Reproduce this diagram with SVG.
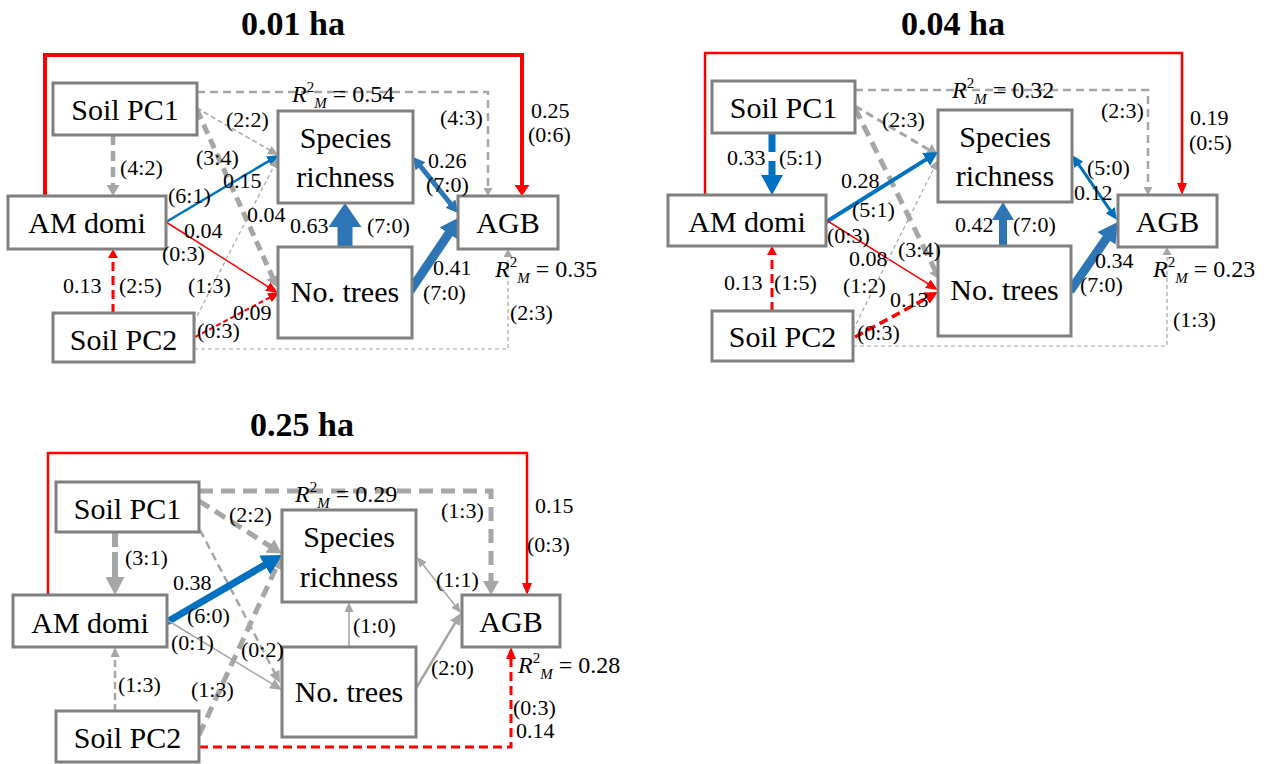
<svg xmlns="http://www.w3.org/2000/svg" width="1269" height="764" viewBox="0 0 1269 764">
<style>
.box{fill:#fff;stroke:#808080;stroke-width:3}
.nt{font-family:'Liberation Serif','Times New Roman',serif;font-size:30px;fill:#000;text-anchor:middle}
.el{font-family:'Liberation Serif','Times New Roman',serif;font-size:22px;fill:#000}
.r2{font-family:'Liberation Serif','Times New Roman',serif;font-size:24px;fill:#000}
.ttl{font-family:'Liberation Serif','Times New Roman',serif;font-size:34px;font-weight:bold;fill:#000;text-anchor:middle}
.c{fill:none}
</style>
<defs>
<marker id="mR1" markerUnits="userSpaceOnUse" viewBox="0 0 12 10" markerWidth="12" markerHeight="10" refX="2" refY="5" orient="auto-start-reverse"><path d="M0,0L12,5L0,10z" fill="#ff0000"/></marker>
<marker id="mR2" markerUnits="userSpaceOnUse" viewBox="0 0 11 15" markerWidth="11" markerHeight="15" refX="2" refY="7.5" orient="auto-start-reverse"><path d="M0,0L11,7.5L0,15z" fill="#ff0000"/></marker>
<marker id="mR3" markerUnits="userSpaceOnUse" viewBox="0 0 9 10" markerWidth="9" markerHeight="10" refX="2" refY="5" orient="auto-start-reverse"><path d="M0,0L9,5L0,10z" fill="#ff0000"/></marker>
<marker id="mR4" markerUnits="userSpaceOnUse" viewBox="0 0 13 13" markerWidth="13" markerHeight="13" refX="2" refY="6.5" orient="auto-start-reverse"><path d="M0,0L13,6.5L0,13z" fill="#ff0000"/></marker>
<marker id="mB1" markerUnits="userSpaceOnUse" viewBox="0 0 12 11" markerWidth="12" markerHeight="11" refX="2" refY="5.5" orient="auto-start-reverse"><path d="M0,0L12,5.5L0,11z" fill="#0070c0"/></marker>
<marker id="mB2" markerUnits="userSpaceOnUse" viewBox="0 0 14 15" markerWidth="14" markerHeight="15" refX="2" refY="7.5" orient="auto-start-reverse"><path d="M0,0L14,7.5L0,15z" fill="#0070c0"/></marker>
<marker id="mB3" markerUnits="userSpaceOnUse" viewBox="0 0 20 22" markerWidth="20" markerHeight="22" refX="2" refY="11" orient="auto-start-reverse"><path d="M0,0L20,11L0,22z" fill="#0070c0"/></marker>
<marker id="mB4" markerUnits="userSpaceOnUse" viewBox="0 0 20 22" markerWidth="20" markerHeight="22" refX="2" refY="11" orient="auto-start-reverse"><path d="M0,0L20,11L0,22z" fill="#2e75b6"/></marker>
<marker id="mB5" markerUnits="userSpaceOnUse" viewBox="0 0 24 33" markerWidth="24" markerHeight="33" refX="2" refY="16.5" orient="auto-start-reverse"><path d="M0,0L24,16.5L0,33z" fill="#2e75b6"/></marker>
<marker id="mB6" markerUnits="userSpaceOnUse" viewBox="0 0 18 22" markerWidth="18" markerHeight="22" refX="2" refY="11" orient="auto-start-reverse"><path d="M0,0L18,11L0,22z" fill="#2e75b6"/></marker>
<marker id="mB7" markerUnits="userSpaceOnUse" viewBox="0 0 12 13" markerWidth="12" markerHeight="13" refX="2" refY="6.5" orient="auto-start-reverse"><path d="M0,0L12,6.5L0,13z" fill="#2e75b6"/></marker>
<marker id="mG1" markerUnits="userSpaceOnUse" viewBox="0 0 8 9" markerWidth="8" markerHeight="9" refX="2" refY="4.5" orient="auto-start-reverse"><path d="M0,0L8,4.5L0,9z" fill="#a6a6a6"/></marker>
<marker id="mG2" markerUnits="userSpaceOnUse" viewBox="0 0 10 9" markerWidth="10" markerHeight="9" refX="2" refY="4.5" orient="auto-start-reverse"><path d="M0,0L10,4.5L0,9z" fill="#a6a6a6"/></marker>
<marker id="mG3" markerUnits="userSpaceOnUse" viewBox="0 0 11 13" markerWidth="11" markerHeight="13" refX="2" refY="6.5" orient="auto-start-reverse"><path d="M0,0L11,6.5L0,13z" fill="#a6a6a6"/></marker>
<marker id="mG4" markerUnits="userSpaceOnUse" viewBox="0 0 14 16" markerWidth="14" markerHeight="16" refX="2" refY="8" orient="auto-start-reverse"><path d="M0,0L14,8L0,16z" fill="#a6a6a6"/></marker>
<marker id="mG5" markerUnits="userSpaceOnUse" viewBox="0 0 18 19" markerWidth="18" markerHeight="19" refX="2" refY="9.5" orient="auto-start-reverse"><path d="M0,0L18,9.5L0,19z" fill="#a6a6a6"/></marker>
<marker id="mG6" markerUnits="userSpaceOnUse" viewBox="0 0 12 11" markerWidth="12" markerHeight="11" refX="2" refY="5.5" orient="auto-start-reverse"><path d="M0,0L12,5.5L0,11z" fill="#a6a6a6"/></marker>
</defs>
<rect width="1269" height="764" fill="#fff"/>

<g id="connectors" fill="none">
<path class="c" stroke="#ff0000" stroke-width="4" d="M45,196V55H522V187" marker-end="url(#mR2)"/>
<path class="c" stroke="#a6a6a6" stroke-width="2.5" stroke-dasharray="8 5" d="M197,92H488V190" marker-end="url(#mG1)"/>
<path class="c" stroke="#a6a6a6" stroke-width="4.5" stroke-dasharray="10 6" d="M113,135V187" marker-end="url(#mG3)"/>
<path class="c" stroke="#a6a6a6" stroke-width="1.5" stroke-dasharray="5 3" d="M197,108L271.1,151" marker-end="url(#mG2)"/>
<path class="c" stroke="#a6a6a6" stroke-width="5" stroke-dasharray="10 6" d="M197,110L273.3,278.8" marker-end="url(#mG3)"/>
<path class="c" stroke="#0070c0" stroke-width="2.5" d="M166,222L270.4,160.1" marker-end="url(#mB1)"/>
<path class="c" stroke="#ff0000" stroke-width="1.5" d="M166,222L269.5,287.6" marker-end="url(#mR1)"/>
<path class="c" stroke="#a6a6a6" stroke-width="1.2" stroke-dasharray="4 3" d="M194,322L274.4,165.1" marker-end="url(#mG2)"/>
<path class="c" stroke="#ff0000" stroke-width="2" stroke-dasharray="5 3" d="M195,337L271.2,296.7" marker-end="url(#mR1)"/>
<path class="c" stroke="#a6a6a6" stroke-width="1.2" stroke-dasharray="4 3" d="M194,349H508V255" marker-end="url(#mG1)"/>
<path class="c" stroke="#ff0000" stroke-width="3" stroke-dasharray="9 5" d="M113,313V256" marker-end="url(#mR3)"/>
<path class="c" stroke="#2e75b6" stroke-width="15" d="M345,247V225" marker-end="url(#mB5)"/>
<path class="c" stroke="#2e75b6" stroke-width="9" d="M410,291L449.8,231.9" marker-end="url(#mB4)"/>
<path class="c" stroke="#2e75b6" stroke-width="5" d="M419.3,164.8L451.7,205.2" marker-start="url(#mB7)" marker-end="url(#mB7)"/>

<path class="c" stroke="#ff0000" stroke-width="2.5" d="M705,195V53H1182V185" marker-end="url(#mR1)"/>
<path class="c" stroke="#a6a6a6" stroke-width="2.5" stroke-dasharray="8 5" d="M855,90H1148V189" marker-end="url(#mG1)"/>
<path class="c" stroke="#0070c0" stroke-width="7" stroke-dasharray="19 9" d="M772,133V177" marker-end="url(#mB3)"/>
<path class="c" stroke="#a6a6a6" stroke-width="3" stroke-dasharray="8 5" d="M855,106L930.2,150.5" marker-end="url(#mG3)"/>
<path class="c" stroke="#a6a6a6" stroke-width="5" stroke-dasharray="12 7" d="M855,108L936,272" marker-end="url(#mG3)"/>
<path class="c" stroke="#0070c0" stroke-width="4" d="M826,222L927.8,158.4" marker-end="url(#mB2)"/>
<path class="c" stroke="#ff0000" stroke-width="1.5" d="M826,220L929.5,284.7" marker-end="url(#mR1)"/>
<path class="c" stroke="#a6a6a6" stroke-width="1.2" stroke-dasharray="4 3" d="M853,330L934.4,167.2" marker-end="url(#mG2)"/>
<path class="c" stroke="#ff0000" stroke-width="3.5" stroke-dasharray="9 5" d="M855,337L928.3,297.2" marker-end="url(#mR4)"/>
<path class="c" stroke="#a6a6a6" stroke-width="1.2" stroke-dasharray="4 3" d="M853,346H1167V253" marker-end="url(#mG1)"/>
<path class="c" stroke="#ff0000" stroke-width="3" stroke-dasharray="9 5" d="M772,311V253" marker-end="url(#mR3)"/>
<path class="c" stroke="#2e75b6" stroke-width="8" d="M1003,246V218" marker-end="url(#mB6)"/>
<path class="c" stroke="#2e75b6" stroke-width="9" d="M1070,291L1107.6,236.7" marker-end="url(#mB4)"/>
<path class="c" stroke="#0070c0" stroke-width="3" d="M1077.7,163.2L1111.3,211.8" marker-start="url(#mB1)" marker-end="url(#mB1)"/>

<path class="c" stroke="#ff0000" stroke-width="2.5" d="M48,595V453H527V585" marker-end="url(#mR1)"/>
<path class="c" stroke="#a6a6a6" stroke-width="5" stroke-dasharray="14 8" d="M199,491H491V583" marker-end="url(#mG4)"/>
<path class="c" stroke="#a6a6a6" stroke-width="6" stroke-dasharray="15 5 30 5" d="M115,532V579" marker-end="url(#mG5)"/>
<path class="c" stroke="#a6a6a6" stroke-width="5" stroke-dasharray="12 7" d="M199,501L271.5,547.1" marker-end="url(#mG4)"/>
<path class="c" stroke="#a6a6a6" stroke-width="2.5" stroke-dasharray="8 5" d="M200,530L275.4,674.1" marker-end="url(#mG6)"/>
<path class="c" stroke="#a6a6a6" stroke-width="5" stroke-dasharray="12 7" d="M199,735L277,565.9" marker-end="url(#mG4)"/>
<path class="c" stroke="#0070c0" stroke-width="7" d="M167,622L266.4,564.1" marker-end="url(#mB3)"/>
<path class="c" stroke="#a6a6a6" stroke-width="1.5" d="M167,620L273.5,684.7" marker-end="url(#mG6)"/>
<path class="c" stroke="#a6a6a6" stroke-width="2.5" stroke-dasharray="7 4" d="M115,711V655" marker-end="url(#mG2)"/>
<path class="c" stroke="#ff0000" stroke-width="3" stroke-dasharray="9 5" d="M199,747H511V657" marker-end="url(#mR1)"/>
<path class="c" stroke="#a6a6a6" stroke-width="1.5" d="M349,647V610" marker-end="url(#mG2)"/>
<path class="c" stroke="#a6a6a6" stroke-width="2.5" d="M415,690L455.9,621.6" marker-end="url(#mG6)"/>
<path class="c" stroke="#a6a6a6" stroke-width="1.5" d="M422,563.3L456,606.7" marker-start="url(#mG2)" marker-end="url(#mG2)"/>
</g>

<g id="nodes">
<g id="p1-soilpc1"><rect class="box" x="53" y="83" width="144" height="52"/><text class="nt" font-family="Liberation Serif" x="125" y="120">Soil PC1</text></g>
<g id="p1-amdomi"><rect class="box" x="8" y="196" width="158" height="53"/><text class="nt" font-family="Liberation Serif" x="87" y="233">AM domi</text></g>
<g id="p1-soilpc2"><rect class="box" x="53" y="313" width="141" height="49"/><text class="nt" font-family="Liberation Serif" x="123.5" y="350">Soil PC2</text></g>
<g id="p1-species"><rect class="box" x="278" y="111" width="135" height="92"/><text class="nt" font-family="Liberation Serif" x="345.5" y="148">Species</text><text class="nt" font-family="Liberation Serif" x="345.5" y="187">richness</text></g>
<g id="p1-trees"><rect class="box" x="278" y="247" width="134" height="91"/><text class="nt" font-family="Liberation Serif" x="345" y="302">No. trees</text></g>
<g id="p1-agb"><rect class="box" x="458" y="196" width="100" height="53"/><text class="nt" font-family="Liberation Serif" x="508" y="233">AGB</text></g>

<g id="p2-soilpc1"><rect class="box" x="712" y="81" width="143" height="52"/><text class="nt" font-family="Liberation Serif" x="783.5" y="118">Soil PC1</text></g>
<g id="p2-amdomi"><rect class="box" x="668" y="195" width="158" height="51"/><text class="nt" font-family="Liberation Serif" x="747" y="232">AM domi</text></g>
<g id="p2-soilpc2"><rect class="box" x="712" y="311" width="141" height="50"/><text class="nt" font-family="Liberation Serif" x="782.5" y="347">Soil PC2</text></g>
<g id="p2-species"><rect class="box" x="938" y="110" width="134" height="92"/><text class="nt" font-family="Liberation Serif" x="1005" y="147">Species</text><text class="nt" font-family="Liberation Serif" x="1005" y="186">richness</text></g>
<g id="p2-trees"><rect class="box" x="938" y="246" width="133" height="90"/><text class="nt" font-family="Liberation Serif" x="1004.5" y="300">No. trees</text></g>
<g id="p2-agb"><rect class="box" x="1118" y="195" width="99" height="52"/><text class="nt" font-family="Liberation Serif" x="1167.5" y="232">AGB</text></g>

<g id="p3-soilpc1"><rect class="box" x="56" y="482" width="143" height="50"/><text class="nt" font-family="Liberation Serif" x="127.5" y="519">Soil PC1</text></g>
<g id="p3-amdomi"><rect class="box" x="13" y="595" width="154" height="52"/><text class="nt" font-family="Liberation Serif" x="90" y="633">AM domi</text></g>
<g id="p3-soilpc2"><rect class="box" x="56" y="711" width="143" height="51"/><text class="nt" font-family="Liberation Serif" x="127.5" y="748">Soil PC2</text></g>
<g id="p3-species"><rect class="box" x="282" y="510" width="134" height="92"/><text class="nt" font-family="Liberation Serif" x="349" y="547">Species</text><text class="nt" font-family="Liberation Serif" x="349" y="587">richness</text></g>
<g id="p3-trees"><rect class="box" x="282" y="647" width="134" height="90"/><text class="nt" font-family="Liberation Serif" x="349" y="702">No. trees</text></g>
<g id="p3-agb"><rect class="box" x="462" y="595" width="98" height="52"/><text class="nt" font-family="Liberation Serif" x="511" y="632">AGB</text></g>
</g>

<g id="labels">
<text class="ttl" font-family="Liberation Serif" x="293" y="35">0.01 ha</text>
<text class="ttl" font-family="Liberation Serif" x="953" y="35">0.04 ha</text>
<text class="ttl" font-family="Liberation Serif" x="302" y="436">0.25 ha</text>

<text class="el" font-family="Liberation Serif" x="226" y="127">(2:2)</text>
<text class="el" font-family="Liberation Serif" x="196" y="165">(3:4)</text>
<text class="el" font-family="Liberation Serif" x="120" y="175">(4:2)</text>
<text class="el" font-family="Liberation Serif" x="223" y="188">0.15</text>
<text class="el" font-family="Liberation Serif" x="168" y="203">(6:1)</text>
<text class="el" font-family="Liberation Serif" x="247" y="222">0.04</text>
<text class="el" font-family="Liberation Serif" x="184" y="238">0.04</text>
<text class="el" font-family="Liberation Serif" x="162" y="261">(0:3)</text>
<text class="el" font-family="Liberation Serif" x="63" y="293">0.13</text>
<text class="el" font-family="Liberation Serif" x="119" y="293">(2:5)</text>
<text class="el" font-family="Liberation Serif" x="188" y="293">(1:3)</text>
<text class="el" font-family="Liberation Serif" x="233" y="320">0.09</text>
<text class="el" font-family="Liberation Serif" x="197" y="338">(0:3)</text>
<text class="el" font-family="Liberation Serif" x="290" y="233">0.63</text>
<text class="el" font-family="Liberation Serif" x="367" y="233">(7:0)</text>
<text class="el" font-family="Liberation Serif" x="433" y="275">0.41</text>
<text class="el" font-family="Liberation Serif" x="423" y="300">(7:0)</text>
<text class="el" font-family="Liberation Serif" x="510" y="320">(2:3)</text>
<text class="el" font-family="Liberation Serif" x="440" y="125">(4:3)</text>
<text class="el" font-family="Liberation Serif" x="531" y="118">0.25</text>
<text class="el" font-family="Liberation Serif" x="528" y="142">(0:6)</text>
<text class="el" font-family="Liberation Serif" x="428" y="168">0.26</text>
<text class="el" font-family="Liberation Serif" x="426" y="192">(7:0)</text>
<text class="r2" font-family="Liberation Serif" x="292" y="102"><tspan font-style="italic">R</tspan><tspan font-size="15" dy="-10">2</tspan><tspan font-size="15" font-style="italic" dy="16">M</tspan><tspan dy="-6"> = 0.54</tspan></text>
<text class="r2" font-family="Liberation Serif" x="495" y="277"><tspan font-style="italic">R</tspan><tspan font-size="15" dy="-10">2</tspan><tspan font-size="15" font-style="italic" dy="16">M</tspan><tspan dy="-6"> = 0.35</tspan></text>

<text class="el" font-family="Liberation Serif" x="727" y="165">0.33</text>
<text class="el" font-family="Liberation Serif" x="779" y="165">(5:1)</text>
<text class="el" font-family="Liberation Serif" x="882" y="127">(2:3)</text>
<text class="el" font-family="Liberation Serif" x="841" y="188">0.28</text>
<text class="el" font-family="Liberation Serif" x="852" y="217">(5:1)</text>
<text class="el" font-family="Liberation Serif" x="827" y="243">(0:3)</text>
<text class="el" font-family="Liberation Serif" x="849" y="266">0.08</text>
<text class="el" font-family="Liberation Serif" x="898" y="257">(3:4)</text>
<text class="el" font-family="Liberation Serif" x="724" y="290">0.13</text>
<text class="el" font-family="Liberation Serif" x="774" y="290">(1:5)</text>
<text class="el" font-family="Liberation Serif" x="843" y="293">(1:2)</text>
<text class="el" font-family="Liberation Serif" x="890" y="307">0.13</text>
<text class="el" font-family="Liberation Serif" x="857" y="340">(0:3)</text>
<text class="el" font-family="Liberation Serif" x="1101" y="118">(2:3)</text>
<text class="el" font-family="Liberation Serif" x="1190" y="125">0.19</text>
<text class="el" font-family="Liberation Serif" x="1189" y="150">(0:5)</text>
<text class="el" font-family="Liberation Serif" x="1087" y="175">(5:0)</text>
<text class="el" font-family="Liberation Serif" x="1074" y="200">0.12</text>
<text class="el" font-family="Liberation Serif" x="955" y="232">0.42</text>
<text class="el" font-family="Liberation Serif" x="1013" y="232">(7:0)</text>
<text class="el" font-family="Liberation Serif" x="1095" y="268">0.34</text>
<text class="el" font-family="Liberation Serif" x="1080" y="292">(7:0)</text>
<text class="el" font-family="Liberation Serif" x="1173" y="327">(1:3)</text>
<text class="r2" font-family="Liberation Serif" x="952" y="98"><tspan font-style="italic">R</tspan><tspan font-size="15" dy="-10">2</tspan><tspan font-size="15" font-style="italic" dy="16">M</tspan><tspan dy="-6"> = 0.32</tspan></text>
<text class="r2" font-family="Liberation Serif" x="1153" y="277"><tspan font-style="italic">R</tspan><tspan font-size="15" dy="-10">2</tspan><tspan font-size="15" font-style="italic" dy="16">M</tspan><tspan dy="-6"> = 0.23</tspan></text>

<text class="el" font-family="Liberation Serif" x="125" y="565">(3:1)</text>
<text class="el" font-family="Liberation Serif" x="229" y="522">(2:2)</text>
<text class="el" font-family="Liberation Serif" x="173" y="590">0.38</text>
<text class="el" font-family="Liberation Serif" x="187" y="623">(6:0)</text>
<text class="el" font-family="Liberation Serif" x="171" y="650">(0:1)</text>
<text class="el" font-family="Liberation Serif" x="241" y="657">(0:2)</text>
<text class="el" font-family="Liberation Serif" x="118" y="692">(1:3)</text>
<text class="el" font-family="Liberation Serif" x="191" y="697">(1:3)</text>
<text class="el" font-family="Liberation Serif" x="441" y="518">(1:3)</text>
<text class="el" font-family="Liberation Serif" x="535" y="513">0.15</text>
<text class="el" font-family="Liberation Serif" x="527" y="552">(0:3)</text>
<text class="el" font-family="Liberation Serif" x="436" y="587">(1:1)</text>
<text class="el" font-family="Liberation Serif" x="353" y="633">(1:0)</text>
<text class="el" font-family="Liberation Serif" x="431" y="675">(2:0)</text>
<text class="el" font-family="Liberation Serif" x="513" y="715">(0:3)</text>
<text class="el" font-family="Liberation Serif" x="516" y="738">0.14</text>
<text class="r2" font-family="Liberation Serif" x="295" y="502"><tspan font-style="italic">R</tspan><tspan font-size="15" dy="-10">2</tspan><tspan font-size="15" font-style="italic" dy="16">M</tspan><tspan dy="-6"> = 0.29</tspan></text>
<text class="r2" font-family="Liberation Serif" x="518" y="673"><tspan font-style="italic">R</tspan><tspan font-size="15" dy="-10">2</tspan><tspan font-size="15" font-style="italic" dy="16">M</tspan><tspan dy="-6"> = 0.28</tspan></text>
</g>
</svg>
